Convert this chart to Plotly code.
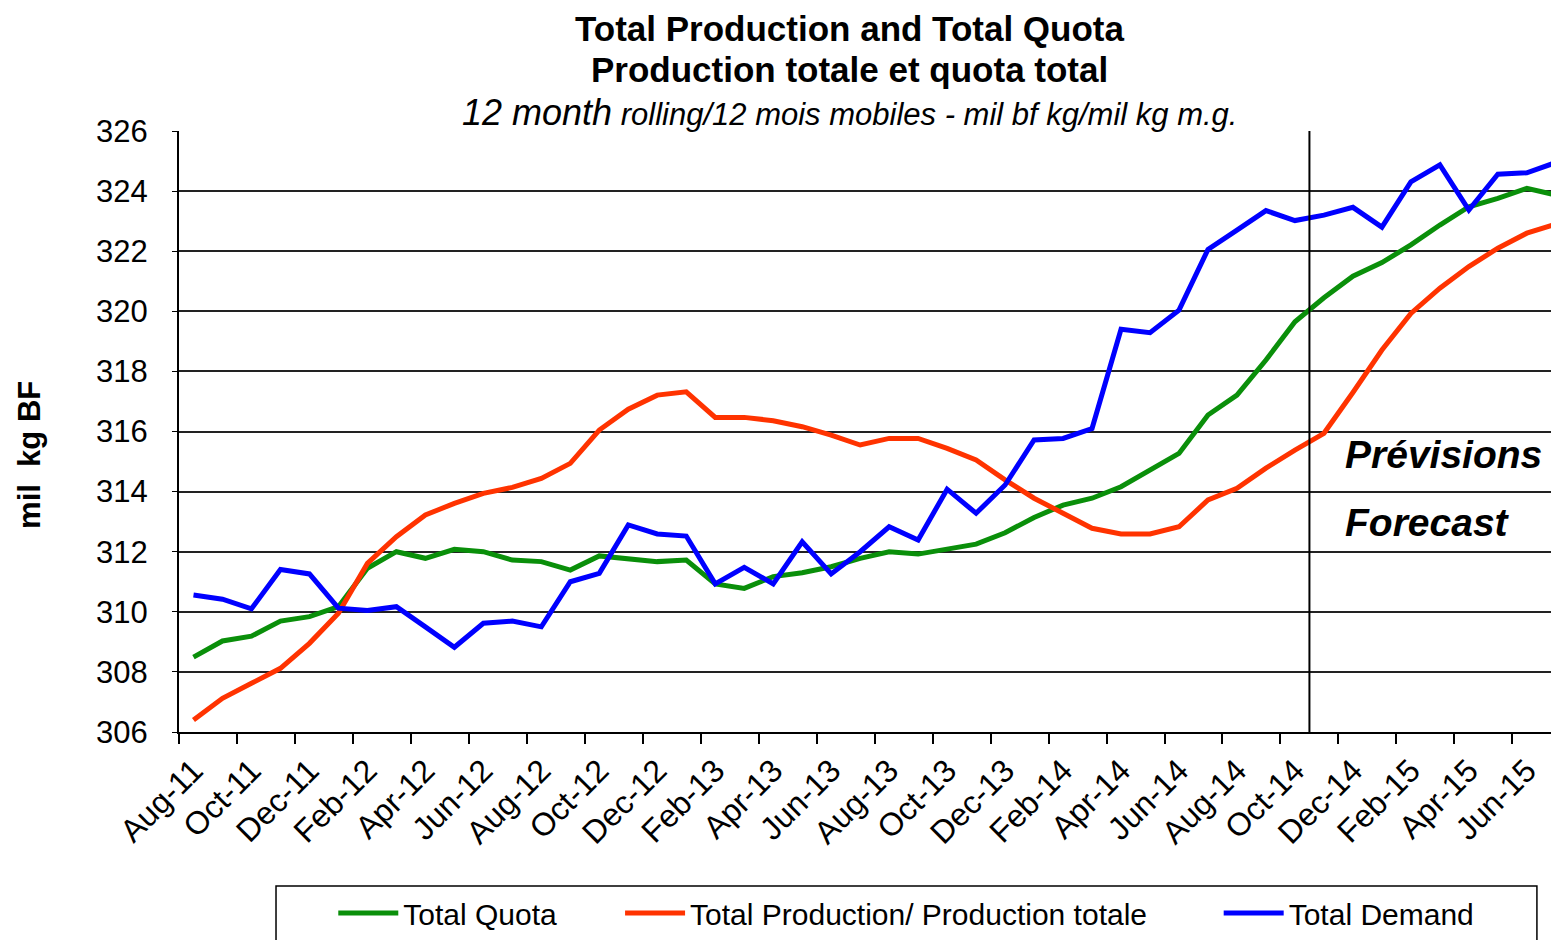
import plotly.graph_objects as go

months = ["Aug-11", "Sep-11", "Oct-11", "Nov-11", "Dec-11", "Jan-12", "Feb-12", "Mar-12",
          "Apr-12", "May-12", "Jun-12", "Jul-12", "Aug-12", "Sep-12", "Oct-12", "Nov-12",
          "Dec-12", "Jan-13", "Feb-13", "Mar-13", "Apr-13", "May-13", "Jun-13", "Jul-13",
          "Aug-13", "Sep-13", "Oct-13", "Nov-13", "Dec-13", "Jan-14", "Feb-14", "Mar-14",
          "Apr-14", "May-14", "Jun-14", "Jul-14", "Aug-14", "Sep-14", "Oct-14", "Nov-14",
          "Dec-14", "Jan-15", "Feb-15", "Mar-15", "Apr-15", "May-15", "Jun-15", "Jul-15"]

total_quota = [308.49, 309.03, 309.19, 309.69, 309.84, 310.17, 311.45, 312.0,
               311.78, 312.08, 312.0, 311.72, 311.67, 311.39, 311.86, 311.78,
               311.67, 311.72, 310.93, 310.78, 311.17, 311.3, 311.5, 311.78,
               312.0, 311.92, 312.1, 312.25, 312.63, 313.14, 313.55, 313.78,
               314.16, 314.72, 315.27, 316.55, 317.21, 318.38, 319.65, 320.45,
               321.17, 321.62, 322.21, 322.87, 323.48, 323.76, 324.09, 323.87]

total_production = [306.4, 307.12, 307.62, 308.12, 308.95, 309.95, 311.61, 312.5,
                    313.22, 313.61, 313.94, 314.14, 314.44, 314.94, 316.05, 316.74,
                    317.21, 317.32, 316.47, 316.47, 316.36, 316.16, 315.88, 315.55,
                    315.77, 315.77, 315.44, 315.05, 314.39, 313.78, 313.28, 312.78,
                    312.59, 312.59, 312.83, 313.72, 314.11, 314.78, 315.38, 315.94,
                    317.3, 318.71, 319.93, 320.77, 321.49, 322.1, 322.6, 322.9]

total_demand = [310.56, 310.42, 310.1, 311.41, 311.26, 310.12, 310.04, 310.17,
                309.5, 308.82, 309.62, 309.69, 309.5, 311.0, 311.28, 312.89,
                312.59, 312.52, 310.93, 311.48, 310.93, 312.33, 311.26, 312.0,
                312.83, 312.39, 314.08, 313.28, 314.22, 315.72, 315.77, 316.1,
                319.4, 319.29, 320.04, 322.06, 322.7, 323.35, 323.02, 323.2,
                323.46, 322.8, 324.31, 324.87, 323.37, 324.56, 324.61, 324.95]

forecast_start = 38.5  # between Oct-14 and Nov-14

idx = list(range(len(months)))
arial = "Liberation Sans, Arial"
nb = "\u00a0"

fig = go.Figure()
fig.add_trace(go.Scatter(x=idx, y=total_quota, mode="lines", name="Total Quota" + nb * 7,
                         line=dict(color="#0a8f0a", width=5)))
fig.add_trace(go.Scatter(x=idx, y=total_production, mode="lines",
                         name="Total Production/ Production totale" + nb * 8,
                         line=dict(color="#ff3300", width=5)))
fig.add_trace(go.Scatter(x=idx, y=total_demand, mode="lines", name="Total Demand",
                         line=dict(color="#0000ff", width=5)))

fig.add_shape(type="line", x0=forecast_start, x1=forecast_start, y0=306, y1=326,
              xref="x", yref="y", line=dict(color="black", width=2))
# legend frame (runs off the bottom edge as in the original)
fig.add_shape(type="rect", xref="paper", yref="paper", x0=0.0703, x1=0.984,
              y0=-0.2562, y1=-0.36, line=dict(color="black", width=1.5))

fig.update_layout(
    width=1559, height=940,
    margin=dict(l=171, r=8, t=123, b=216, autoexpand=False),
    plot_bgcolor="white", paper_bgcolor="white",
    font=dict(family=arial, color="black"),
    showlegend=True,
    legend=dict(orientation="h", x=0.1118, xanchor="left", y=-0.258, yanchor="top",
                borderwidth=0, bgcolor="rgba(0,0,0,0)",
                font=dict(family=arial, size=30), itemwidth=60),
    annotations=[
        dict(text="<b>Total Production and Total Quota</b>", x=0.486, y=1.171,
             yanchor="middle", xref="paper", yref="paper", showarrow=False,
             font=dict(size=35)),
        dict(text="<b>Production totale et quota total</b>", x=0.486, y=1.1015,
             yanchor="middle", xref="paper", yref="paper", showarrow=False,
             font=dict(size=35)),
        dict(text="<i><span style='font-size:36px'>12 month</span> rolling/12 mois mobiles - mil bf kg/mil kg m.g.</i>",
             x=0.486, y=1.031, yanchor="middle", xref="paper", yref="paper",
             showarrow=False, font=dict(size=31)),
        dict(text="<b>mil  kg BF</b>", textangle=-90, x=-0.108, y=0.461,
             xanchor="center", yanchor="middle",
             xref="paper", yref="paper", showarrow=False, font=dict(size=31)),
        dict(text="<b><i>Prévisions</i></b>", x=0.8435, y=0.461, xanchor="left",
             yanchor="middle", xref="paper", yref="paper", showarrow=False,
             font=dict(size=39)),
        dict(text="<b><i>Forecast</i></b>", x=0.8435, y=0.348, xanchor="left",
             yanchor="middle", xref="paper", yref="paper", showarrow=False,
             font=dict(size=39)),
    ],
)

fig.update_xaxes(
    range=[-0.5, 47.11], tickmode="array", tickvals=idx[::2], ticktext=months[::2],
    tickangle=-45, tickfont=dict(size=32), ticks="", ticklabelstandoff=5,
    showgrid=False, zeroline=False, automargin=False,
    showline=True, linecolor="black", linewidth=2,
    minor=dict(tickmode="array", tickvals=[i - 0.5 for i in idx[::2]] + [47.5],
               ticks="outside", ticklen=10, tickwidth=1.5, tickcolor="black", showgrid=False),
)
fig.update_yaxes(
    range=[306, 326], dtick=2, tickfont=dict(size=31), showgrid=True,
    gridcolor="#222222", gridwidth=1.5, zeroline=False, showline=True, automargin=False,
    linecolor="black", linewidth=2, ticks="outside", ticklen=5, tickcolor="black",
    ticklabelstandoff=18,
)

fig.write_html("out.html")
